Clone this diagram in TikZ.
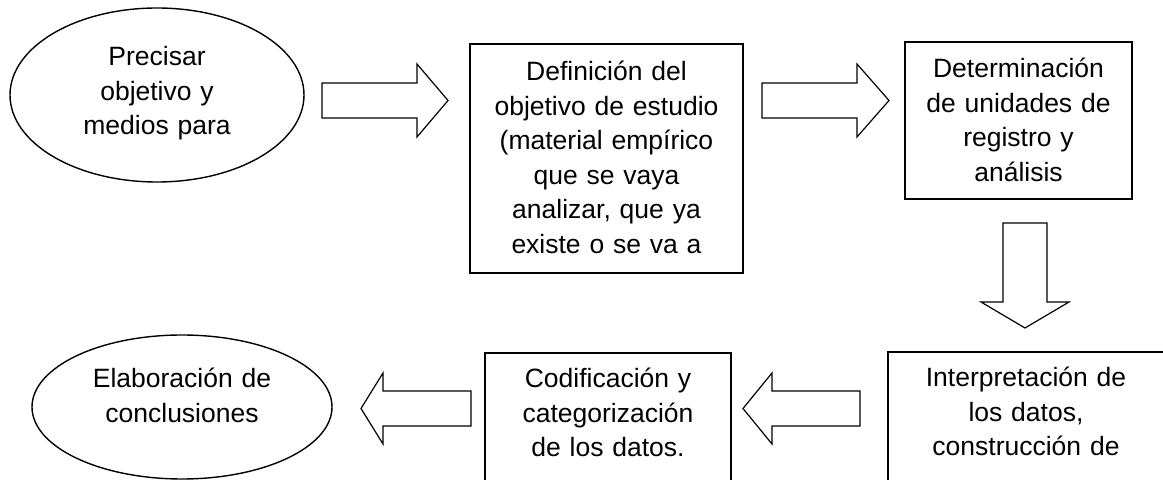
\documentclass[tikz,border=0pt]{standalone}
\usepackage{fontspec}
\setmainfont{Liberation Sans}
\usetikzlibrary{positioning, shapes.geometric, calc}

% block arrow: tail, tip, half shaft, half head, head length
\newcommand{\fatarrow}[5]{%
    \coordinate (hb) at ($(#2)!#5!(#1)$);
    \draw[fatline] ($(#1)!#3!90:(#2)$) -- ($(hb)!#3!90:(#2)$) -- ($(hb)!#4!90:(#2)$) -- (#2)
        -- ($(hb)!#4!-90:(#2)$) -- ($(hb)!#3!-90:(#2)$) -- ($(#1)!#3!-90:(#2)$) -- cycle;
}

\begin{document}
\begin{tikzpicture}[x=0.5pt, y=-0.5pt,
    every node/.style={font=\fontsize{13.25pt}{17.25pt}\selectfont, inner sep=0pt, align=center},
    box/.style={draw, line width=0.8pt, rectangle},
    oval/.style={draw, line width=0.7pt, ellipse, text width=100pt, text height=10pt},
    fatline/.style={draw, line width=0.6pt, line join=miter}]
    \clip (0,0) rectangle (1163,480);
    % Nodes
    \node[oval, minimum width=147pt, minimum height=87pt, text depth=39pt] (precisar) at (157,95) {Precisar\\objetivo y\\medios para};
    \node[box, text width=136.5pt, text height=18.35pt, text depth=96.15pt] (definicion) at (606.5,158.5) {Definición del\\objetivo de estudio\\(material empírico\\que se vaya\\analizar, que ya\\existe o se va a};
    \node[box, text width=113.5pt, text height=18pt, text depth=60.5pt] (unidades) at (1018.5,120.5) {Determinación\\de unidades de\\registro y\\análisis};
    \node[box, text width=138pt, text height=17.35pt, text depth=66.65pt] (interpretacion) at (1026,436) {Interpretación de\\los datos,\\construcción de};
    \node[box, text width=123pt, text height=17.5pt, text depth=66pt] (codificacion) at (608,436.5) {Codificación y\\categorización\\de los datos.};
    \node[oval, minimum width=150pt, minimum height=72pt, text depth=29pt] (conclusiones) at (182,407) {Elaboración de\\conclusiones};

    % Arrow ends
    \coordinate (a1tail) at (322,100.5);
    \coordinate (a1tip) at (448,100.5);
    \coordinate (a2tail) at (762,100.5);
    \coordinate (a2tip) at (889,100.5);
    \coordinate (a3tail) at (1025,223);
    \coordinate (a3tip) at (1025,328);
    \coordinate (a4tail) at (860,408.5);
    \coordinate (a4tip) at (743,408.5);
    \coordinate (a5tail) at (471,408.5);
    \coordinate (a5tip) at (361,408.5);

    % Arrows
    \fatarrow{a1tail}{a1tip}{8.75pt}{18.25pt}{15.5pt}
    \fatarrow{a2tail}{a2tip}{8.75pt}{18.25pt}{16pt}
    \fatarrow{a3tail}{a3tip}{11pt}{22pt}{13pt}
    \fatarrow{a4tail}{a4tip}{8.75pt}{17.75pt}{14.5pt}
    \fatarrow{a5tail}{a5tip}{8.75pt}{17.75pt}{11pt}
\end{tikzpicture}
\end{document}
